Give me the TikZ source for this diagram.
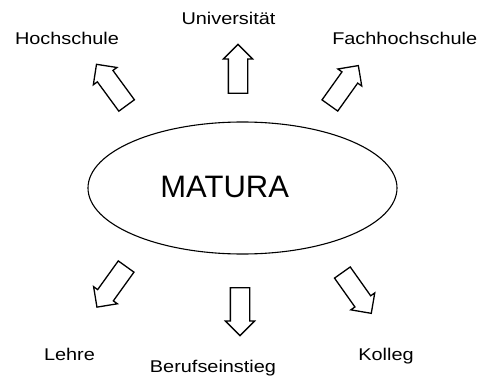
\documentclass[tikz,border=0pt]{standalone}
\usepackage{fontspec}
\setmainfont{Liberation Sans}
\newfontfamily\labelfont[FakeStretch=1.17]{Liberation Sans}
\usetikzlibrary{shapes.arrows,shapes.geometric}
\begin{document}
\begin{tikzpicture}[x=1pt,y=-1pt,
  lbl/.style={font=\labelfont\fontsize{17}{20}\selectfont,anchor=base,inner sep=0pt},
  arr/.style={single arrow,draw=black,line width=1.3pt,fill=white,
    minimum width=28pt,inner sep=0pt,inner ysep=9pt,single arrow head extend=5pt,
    single arrow tip angle=90,anchor=tail}]
\useasboundingbox (0,0) rectangle (487,377);
\node[ellipse,draw=black,line width=1.1pt,minimum width=309pt,minimum height=132pt,inner sep=0pt] (mat) at (242.5,188) {};
\node[font=\fontsize{31}{36}\selectfont,anchor=base,inner sep=0pt] (matt) at (224.7,197.3) {MATURA};
\node[arr,minimum height=51pt,rotate=126.2] (a1) at (127,106) {};
\node[arr,minimum height=49pt,rotate=90] (a2) at (238,94) {};
\node[arr,minimum height=49pt,rotate=54.5] (a3) at (329.5,106) {};
\node[arr,minimum height=50pt,rotate=234.3] (a4) at (126.5,266) {};
\node[arr,minimum height=48pt,rotate=270] (a5) at (240,287) {};
\node[arr,minimum height=50pt,rotate=-54.7] (a6) at (342,272) {};
\node[lbl] (t1) at (67,45) {Hochschule};
\node[lbl] (t2) at (228.5,25) {Universität};
\node[lbl] (t3) at (404.7,45) {Fachhochschule};
\node[lbl] (t4) at (69.5,360) {Lehre};
\node[lbl] (t5) at (213,372) {Berufseinstieg};
\node[lbl] (t6) at (386,360) {Kolleg};
\end{tikzpicture}
\end{document}
